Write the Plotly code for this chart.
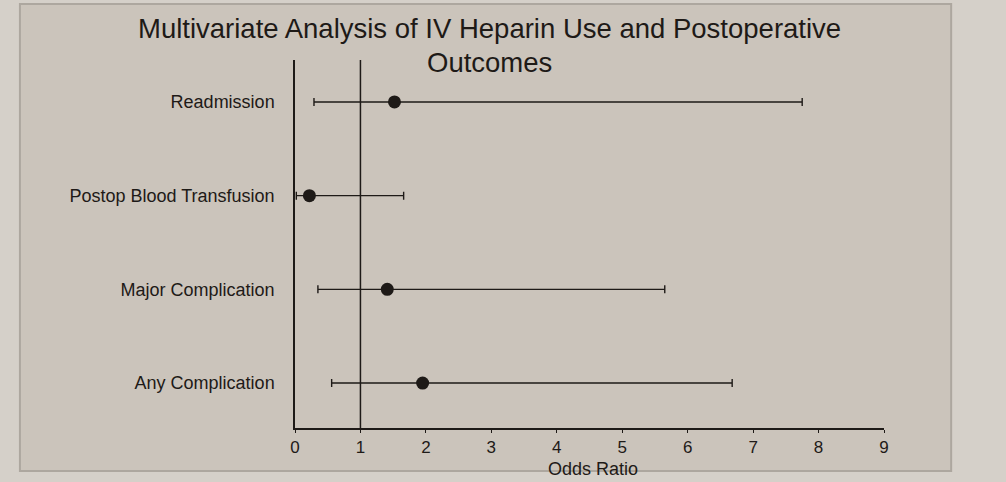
import plotly.graph_objects as go

outcomes = ["Any Complication", "Major Complication", "Postop Blood Transfusion", "Readmission"]
odds_ratio = [1.95, 1.41, 0.22, 1.52]
ci_lower = [0.56, 0.35, 0.02, 0.29]
ci_upper = [6.68, 5.65, 1.66, 7.75]
x_ticks = [0, 1, 2, 3, 4, 5, 6, 7, 8, 9]
title_lines = ["Multivariate Analysis of IV Heparin Use and Postoperative", "Outcomes"]
x_title = "Odds Ratio"

err_plus = [u - o for u, o in zip(ci_upper, odds_ratio)]
err_minus = [o - l for o, l in zip(odds_ratio, ci_lower)]

FONT = "Liberation Sans, Arial, sans-serif"
INK = "#1e1a17"
PLOT_BOTTOM = 428
PLOT_H = 368

fig = go.Figure()
fig.add_trace(go.Scatter(
    x=odds_ratio, y=outcomes, mode="markers",
    marker=dict(color=INK, size=13),
    error_x=dict(type="data", symmetric=False, array=err_plus, arrayminus=err_minus,
                 color=INK, thickness=1.4, width=4),
    showlegend=False,
))

fig.add_shape(type="line", xref="x", yref="paper", x0=1, x1=1, y0=0, y1=1,
              line=dict(color=INK, width=1.5))
# slide frame
fig.add_shape(type="rect", xref="paper", yref="paper", x0=-0.467, x1=1.114, y0=-0.117, y1=1.152,
              line=dict(color="#ada79f", width=2), fillcolor="#cbc4bb", layer="below")

for txt, ypx in zip(title_lines, [28, 62]):
    fig.add_annotation(text=txt, xref="paper", yref="paper", x=0.331,
                       y=(PLOT_BOTTOM - ypx) / PLOT_H,
                       xanchor="center", yanchor="middle", showarrow=False,
                       font=dict(size=27.5, color=INK, family=FONT))

fig.add_annotation(text=x_title, xref="paper", yref="paper", x=0.506,
                   y=(PLOT_BOTTOM - 469) / PLOT_H, xanchor="center", yanchor="middle",
                   showarrow=False, font=dict(size=18, color=INK, family=FONT))

fig.update_layout(
    width=1006, height=482,
    margin=dict(l=295, r=122, t=60, b=482 - PLOT_BOTTOM),
    paper_bgcolor="#d5d0c9",
    plot_bgcolor="rgba(0,0,0,0)",
    font=dict(family=FONT, color=INK),
    xaxis=dict(range=[0, 9], tickvals=x_ticks, showgrid=False, zeroline=False,
               showline=True, linecolor=INK, linewidth=1.5, automargin=False,
               ticks="outside", ticklen=3, tickcolor=INK,
               tickfont=dict(size=17, color=INK)),
    yaxis=dict(categoryorder="array", categoryarray=outcomes, range=[-0.48, 3.448],
               showgrid=False, zeroline=False, showline=True, linecolor=INK, linewidth=1.5,
               automargin=False,
               ticks="", ticklabelstandoff=15, tickfont=dict(size=18, color=INK)),
)

fig.write_html("out.html")
